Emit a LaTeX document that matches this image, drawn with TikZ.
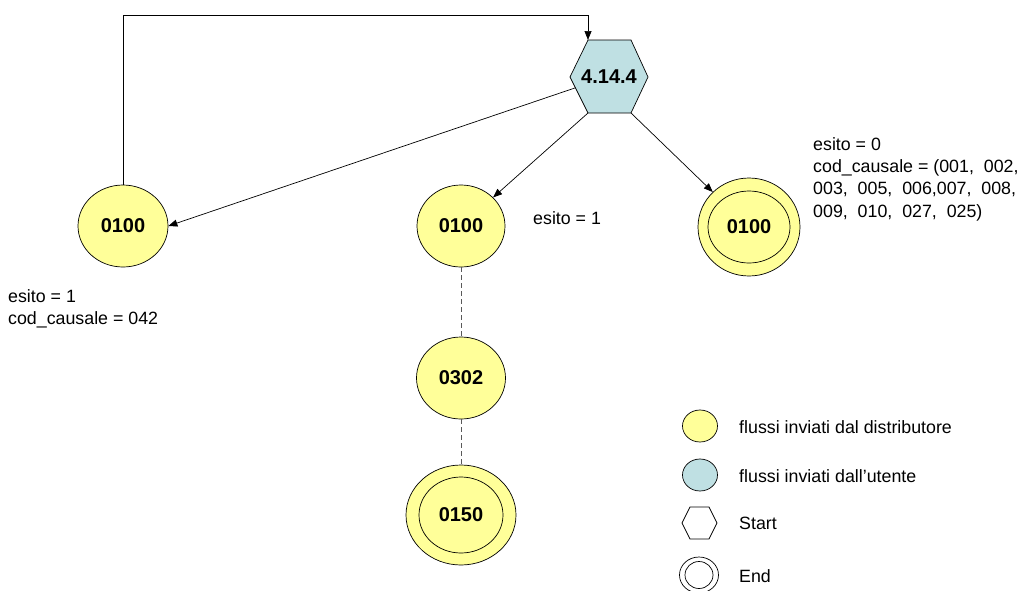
\documentclass[tikz,border=0pt]{standalone}
\usepackage{fontspec}
\setmainfont{Liberation Sans}
\usetikzlibrary{shapes.geometric,arrows.meta,calc}
\definecolor{ylw}{RGB}{255,255,153}
\definecolor{blu}{RGB}{191,224,227}
\begin{document}
\begin{tikzpicture}[x=1pt,y=-1pt,
  lbl/.style={font=\fontsize{20}{24}\selectfont\bfseries},
  txt/.style={font=\fontsize{17.8}{22.4}\selectfont, inner sep=0pt},
  yel/.style={ellipse, draw=black, fill=ylw, line width=0.7pt, inner sep=0pt},
  inner/.style={ellipse, draw=black, line width=0.7pt, inner sep=0pt},
  conn/.style={line width=0.7pt, -{Triangle[length=9pt,width=7pt]}},
  dash line/.style={line width=1pt, dash pattern=on 5pt off 3pt, draw=black!65}]
\useasboundingbox (0,0) rectangle (1018,590);
% hexagon
\coordinate (hL) at (570,77);
\coordinate (hTL) at (588,40);
\coordinate (hTR) at (631,40);
\coordinate (hR) at (648,77);
\coordinate (hBR) at (631,113);
\coordinate (hBL) at (588,113);
\draw[fill=blu, line width=0.7pt] (hL) -- (hTL) -- (hTR) -- (hR) -- (hBR) -- (hBL) -- cycle;
\node[lbl] (hex) at (609,77) {4.14.4};
% circles
\node[yel, minimum width=90pt, minimum height=82pt, lbl] (c1) at (123,226) {0100};
\node[yel, minimum width=88pt, minimum height=82pt, lbl] (c2) at (461,226) {0100};
\node[yel, minimum width=102pt, minimum height=98pt] (c3) at (749,227) {};
\node[inner, minimum width=82pt, minimum height=72pt, lbl] (c3i) at (749,227) {0100};
\node[yel, minimum width=89pt, minimum height=82pt, lbl] (c4) at (461,378) {0302};
\node[yel, minimum width=110pt, minimum height=100pt] (c5) at (461,515) {};
\node[inner, minimum width=84pt, minimum height=76pt, lbl] (c5i) at (461,515) {0150};
% connectors
\draw[conn] ($(hL)!0.3!(hBL)$) -- (c1.east);
\draw[conn] (hBL) -- (c2);
\draw[conn] (hBR) -- (c3);
\coordinate (lp1) at (123,15);
\coordinate (lp2) at (588,15);
\draw[conn] (c1.north) -- (lp1) -- (lp2) -- (hTL);
\draw[dash line] (c2.south) -- (c4.north);
\draw[dash line] (c4.south) -- (c5.north);
% texts
\node[txt, anchor=west] (t1) at (533,218) {esito = 1};
\node[txt, anchor=north west, align=left] (t2) at (813,137) {esito = 0\\cod\_causale = (001,~ 002,\\003,~ 005,~ 006,007,~ 008,\\009,~ 010,~ 027,~ 025)};
\node[txt, anchor=north west, align=left] (t3) at (8,289) {esito = 1\\cod\_causale = 042};
% legend
\node[yel, minimum width=35pt, minimum height=32pt] (lg1) at (700,426) {};
\node[txt, anchor=west] (lt1) at (739,427) {flussi inviati dal distributore};
\node[ellipse, draw=black, fill=blu, line width=0.7pt, inner sep=0pt, minimum width=35pt, minimum height=32pt] (lg2) at (700,475) {};
\node[txt, anchor=west] (lt2) at (739,476) {flussi inviati dall’utente};
\draw[line width=0.7pt] (682,523) -- (690,507) -- (709,507) -- (717,523) -- (709,539) -- (690,539) -- cycle;
\coordinate (lg3) at (700,523);
\node[txt, anchor=west] (lt3) at (739,523) {Start};
\node[ellipse, draw=black, line width=0.7pt, inner sep=0pt, minimum width=39pt, minimum height=36pt] (lg4) at (699,575) {};
\node[ellipse, draw=black, line width=0.7pt, inner sep=0pt, minimum width=28pt, minimum height=27pt] (lg4i) at (699,575) {};
\node[txt, anchor=west] (lt4) at (739,576) {End};
\end{tikzpicture}
\end{document}
